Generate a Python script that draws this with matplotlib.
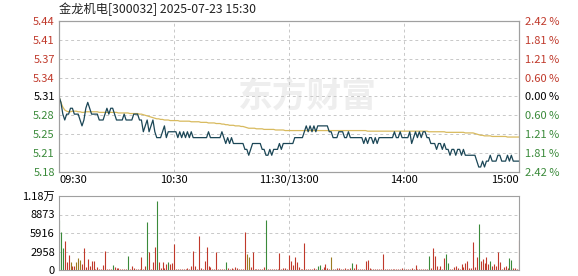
import numpy as np
import matplotlib.pyplot as plt

plt.rcParams['font.family'] = ['Noto Sans CJK SC', 'DejaVu Sans']

title = '金龙机电[300032] 2025-07-23 15:30'
prev_close = 5.31
pct_range = 2.42
vol_max = 11831

time_labels = ['09:30', '10:30', '11:30/13:00', '14:00', '15:00']
price_labels = ['5.18', '5.21', '5.25', '5.28', '5.31', '5.34', '5.37', '5.41', '5.44']
pct_labels = ['2.42 %', '1.81 %', '1.21 %', '0.60 %', '0.00 %',
              '0.60 %', '1.21 %', '1.81 %', '2.42 %']
vol_labels = ['0', '2958', '5916', '8873', '1.18万']

# minute prices 09:30 .. 11:30, 13:01 .. 15:00
price = [
    5.31, 5.30, 5.28, 5.27, 5.28, 5.28, 5.29, 5.29, 5.28, 5.28,
    5.28, 5.27, 5.26, 5.27, 5.29, 5.30, 5.29, 5.28, 5.28, 5.28,
    5.28, 5.27, 5.27, 5.27, 5.28, 5.29, 5.28, 5.29, 5.29, 5.28,
    5.27, 5.27, 5.27, 5.27, 5.28, 5.27, 5.27, 5.27, 5.27, 5.28,
    5.28, 5.28, 5.27, 5.27, 5.25, 5.26, 5.27, 5.25, 5.26, 5.27,
    5.25, 5.24, 5.24, 5.24, 5.25, 5.26, 5.24, 5.25, 5.25, 5.25,
    5.25, 5.25, 5.24, 5.25, 5.24, 5.25, 5.24, 5.25, 5.24, 5.25,
    5.24, 5.24, 5.24, 5.24, 5.24, 5.24, 5.24, 5.24, 5.25, 5.24,
    5.24, 5.24, 5.24, 5.24, 5.24, 5.25, 5.24, 5.23, 5.24, 5.23,
    5.24, 5.23, 5.23, 5.23, 5.23, 5.23, 5.23, 5.22, 5.22, 5.21,
    5.22, 5.23, 5.23, 5.23, 5.23, 5.23, 5.22, 5.22, 5.21, 5.21,
    5.22, 5.21, 5.22, 5.22, 5.22, 5.23, 5.22, 5.23, 5.23, 5.23,
    5.23, 5.23, 5.23, 5.24, 5.24, 5.24, 5.24, 5.24, 5.25, 5.26,
    5.25, 5.26, 5.25, 5.26, 5.25, 5.26, 5.26, 5.26, 5.26, 5.26,
    5.26, 5.25, 5.25, 5.24, 5.24, 5.24, 5.25, 5.25, 5.25, 5.24,
    5.24, 5.25, 5.24, 5.24, 5.24, 5.24, 5.24, 5.24, 5.24, 5.23,
    5.24, 5.23, 5.24, 5.24, 5.23, 5.24, 5.23, 5.24, 5.24, 5.24,
    5.24, 5.24, 5.24, 5.24, 5.24, 5.25, 5.24, 5.24, 5.25, 5.24,
    5.24, 5.24, 5.24, 5.25, 5.23, 5.24, 5.25, 5.24, 5.25, 5.24,
    5.25, 5.25, 5.24, 5.24, 5.23, 5.23, 5.23, 5.22, 5.23, 5.23,
    5.22, 5.23, 5.22, 5.22, 5.21, 5.22, 5.22, 5.21, 5.22, 5.22,
    5.21, 5.22, 5.21, 5.21, 5.21, 5.21, 5.21, 5.21, 5.20, 5.19,
    5.19, 5.20, 5.19, 5.20, 5.20, 5.21, 5.20, 5.20, 5.20, 5.21,
    5.21, 5.20, 5.20, 5.20, 5.21, 5.20, 5.21, 5.20, 5.20, 5.20,
    5.20,
]

avg_price = [
    5.310, 5.300, 5.292, 5.287, 5.285, 5.284, 5.284, 5.285, 5.285, 5.285,
    5.284, 5.284, 5.283, 5.283, 5.284, 5.284, 5.284, 5.284, 5.284, 5.284,
    5.284, 5.283, 5.283, 5.283, 5.283, 5.283, 5.283, 5.283, 5.283, 5.283,
    5.283, 5.282, 5.282, 5.282, 5.282, 5.282, 5.282, 5.281, 5.281, 5.281,
    5.281, 5.281, 5.280, 5.280, 5.279, 5.278, 5.277, 5.276, 5.275, 5.274,
    5.273, 5.272, 5.272, 5.271, 5.271, 5.270, 5.270, 5.270, 5.269, 5.269,
    5.269, 5.269, 5.269, 5.268, 5.268, 5.268, 5.268, 5.268, 5.268, 5.267,
    5.267, 5.267, 5.267, 5.267, 5.266, 5.266, 5.266, 5.266, 5.265, 5.265,
    5.265, 5.265, 5.264, 5.264, 5.264, 5.263, 5.263, 5.262, 5.262, 5.261,
    5.261, 5.261, 5.260, 5.260, 5.260, 5.259, 5.259, 5.258, 5.257, 5.256,
    5.256, 5.256, 5.256, 5.255, 5.255, 5.255, 5.255, 5.254, 5.254, 5.254,
    5.254, 5.254, 5.254, 5.253, 5.253, 5.253, 5.253, 5.253, 5.252, 5.252,
    5.252, 5.252, 5.252, 5.252, 5.252, 5.252, 5.252, 5.252, 5.252, 5.252,
    5.252, 5.252, 5.252, 5.252, 5.252, 5.252, 5.252, 5.252, 5.252, 5.252,
    5.252, 5.252, 5.252, 5.252, 5.252, 5.252, 5.252, 5.252, 5.252, 5.252,
    5.252, 5.252, 5.252, 5.252, 5.252, 5.252, 5.252, 5.252, 5.252, 5.252,
    5.252, 5.251, 5.251, 5.251, 5.251, 5.251, 5.251, 5.251, 5.251, 5.251,
    5.251, 5.251, 5.251, 5.251, 5.251, 5.251, 5.251, 5.251, 5.251, 5.251,
    5.251, 5.251, 5.251, 5.251, 5.251, 5.251, 5.251, 5.251, 5.251, 5.251,
    5.251, 5.251, 5.251, 5.250, 5.250, 5.250, 5.250, 5.250, 5.250, 5.250,
    5.250, 5.250, 5.249, 5.249, 5.249, 5.249, 5.249, 5.249, 5.249, 5.249,
    5.249, 5.249, 5.248, 5.248, 5.248, 5.248, 5.248, 5.247, 5.246, 5.245,
    5.244, 5.244, 5.243, 5.243, 5.243, 5.243, 5.242, 5.242, 5.242, 5.242,
    5.242, 5.242, 5.242, 5.242, 5.241, 5.241, 5.241, 5.241, 5.241, 5.241,
    5.241,
]

volume = [
    8025, 6045, 3530, 4700, 1200, 2400, 1300, 700, 700, 1200,
    1900, 1600, 1000, 3500, 500, 1800, 700, 1500, 1500, 150,
    400, 200, 150, 850, 3100, 150, 150, 150, 800, 550,
    250, 300, 200, 150, 150, 150, 2300, 150, 600, 300,
    200, 150, 150, 2000, 150, 700, 7750, 2950, 150, 1300,
    3600, 11000, 1300, 300, 1200, 300, 950, 1200, 950, 1100,
    4200, 200, 150, 150, 150, 150, 200, 300, 150, 700,
    3100, 700, 200, 5400, 300, 200, 1500, 3750, 640, 400,
    150, 150, 2950, 150, 150, 200, 150, 1200, 300, 150,
    300, 200, 400, 300, 150, 150, 150, 6150, 2570, 2140,
    400, 2950, 200, 150, 150, 150, 150, 400, 8025, 200,
    200, 150, 150, 150, 200, 2730, 200, 300, 250, 150,
    2400, 1500, 850, 2140, 1200, 430, 150, 200, 4330, 200,
    150, 150, 200, 300, 150, 700, 850, 150, 430, 960,
    300, 200, 2140, 150, 200, 250, 250, 150, 200, 250,
    150, 200, 300, 1120, 300, 960, 200, 150, 200, 150,
    1500, 1660, 300, 200, 150, 200, 150, 200, 150, 2570,
    200, 150, 150, 150, 150, 150, 200, 150, 150, 300,
    200, 200, 150, 200, 300, 150, 800, 150, 200, 150,
    150, 150, 200, 2250, 300, 3530, 2300, 700, 200, 700,
    200, 1870, 2570, 1120, 200, 150, 430, 700, 300, 200,
    960, 535, 1120, 1500, 300, 300, 4550, 535, 2030, 7380,
    1500, 1770, 1070, 2140, 960, 1500, 700, 960, 700, 2840,
    1230, 150, 535, 700, 300, 1870, 1600, 300, 300, 200,
    4870,
]

# minutes with falling price (green bars) and mixed ones (olive)
down_minutes = [0, 1, 2, 28, 36, 46, 51, 57, 87, 108, 135, 136, 153,
                193, 202, 203, 219, 225, 235, 236]
mixed_minutes = [6, 9, 10, 11, 98, 99, 142]

RED = '#c0392b'
GREEN = '#3a8a3a'
GRID = '#c8c8c8'
FRAME = '#a0a0a0'

lo = prev_close * (1 - pct_range / 100)
hi = prev_close * (1 + pct_range / 100)
levels = np.linspace(lo, hi, 9)
x = np.arange(len(price))

fig = plt.figure(figsize=(5.78, 2.76), dpi=100)
ax = fig.add_axes([59/578, 104/276, 460/578, 151/276])
axv = fig.add_axes([59/578, 6/276, 460/578, 74/276])

# watermark
ax.text(0.54, 0.50, '东方财富', transform=ax.transAxes, fontsize=25,
        fontweight='bold', color='#eeeeee', ha='center', va='center', zorder=0)

ax.plot(x, avg_price, color='#d8ba5e', lw=0.9, zorder=3)
ax.plot(x, price, color='#1b4656', lw=0.9, zorder=4)
ax.set_xlim(0, 240)
ax.set_ylim(lo, hi)

ax.set_yticks(levels)
ax.set_yticklabels(price_labels)
ax.set_xticks([0, 60, 120, 180, 240])
ax.set_xticklabels(time_labels)
ax.tick_params(length=0, labelsize=8, pad=3)
ax.tick_params(axis='x', pad=2)
ax.grid(True, ls=(0, (3, 3)), color=GRID, lw=0.7)
for i, lbl in enumerate(ax.get_yticklabels()):
    lbl.set_color(RED if i > 4 else ('black' if i == 4 else GREEN))
xl = ax.get_xticklabels()
xl[0].set_horizontalalignment('left')
xl[-1].set_horizontalalignment('right')

axr = ax.twinx()
axr.set_ylim(lo, hi)
axr.set_yticks(levels)
axr.set_yticklabels(pct_labels)
axr.tick_params(length=0, labelsize=8, pad=4)
for i, lbl in enumerate(axr.get_yticklabels()):
    lbl.set_color(RED if i > 4 else ('black' if i == 4 else GREEN))

cols = []
for m in range(len(volume)):
    if m in down_minutes:
        cols.append(GREEN)
    elif m in mixed_minutes:
        cols.append('#9a7b22')
    else:
        cols.append(RED)
axv.vlines(x, 0, volume, colors=cols, lw=0.8)
axv.set_xlim(0, 240)
axv.set_ylim(0, vol_max)
axv.set_yticks(np.linspace(0, vol_max, 5))
axv.set_yticklabels(vol_labels)
axv.set_xticks([0, 60, 120, 180, 240])
axv.set_xticklabels([])
axv.tick_params(length=0, labelsize=8, pad=3)
axv.grid(True, ls=(0, (3, 3)), color=GRID, lw=0.7)

for a in (ax, axr, axv):
    for s in a.spines.values():
        s.set_color(FRAME)
        s.set_linewidth(0.8)

fig.text(59/578, 1 - 9/276, title, fontsize=8.8, color='#222222',
         ha='left', va='center')

fig.savefig('out.png', dpi=100)
